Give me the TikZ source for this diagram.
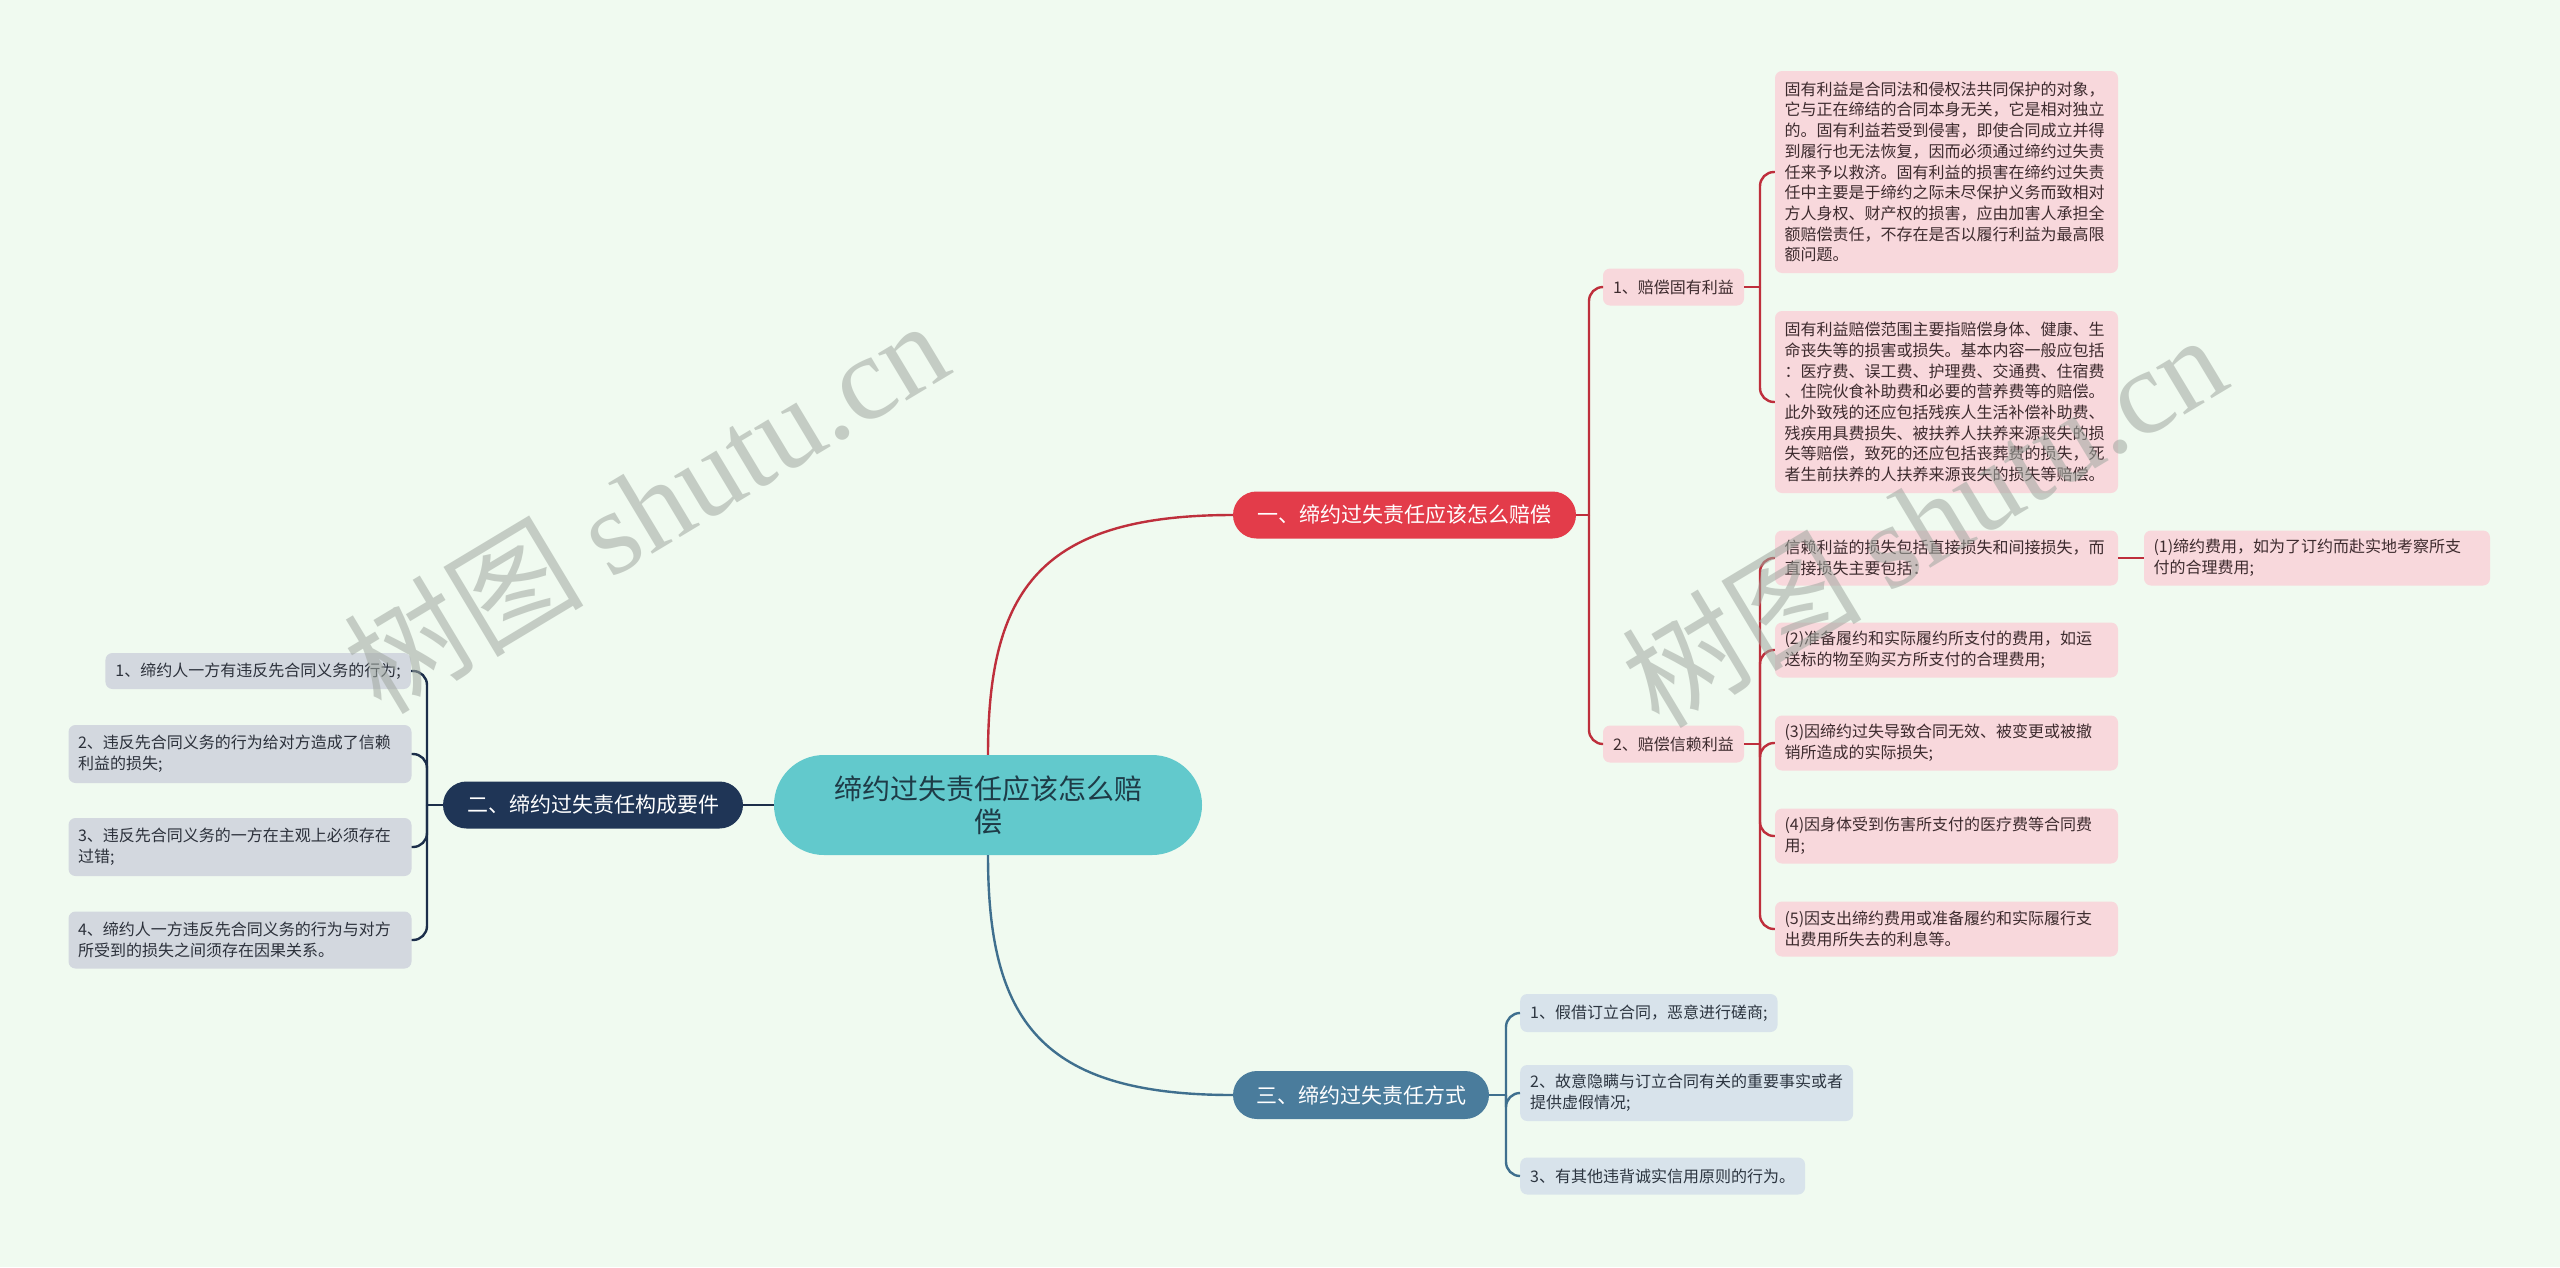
\documentclass[tikz,border=0pt]{standalone}
\usepackage{fontspec}
\setmainfont{Noto Sans CJK SC}
\newfontfamily\wmlatin{Liberation Serif}
\usetikzlibrary{shapes.misc}
\definecolor{cBg}{HTML}{F0FAF0}
\definecolor{cTeal}{HTML}{62C9CC}
\definecolor{cTxtC}{HTML}{1E3B47}
\definecolor{cRedPill}{HTML}{E33C4A}
\definecolor{cNavyPill}{HTML}{1F3556}
\definecolor{cBluePill}{HTML}{4A7C9C}
\definecolor{cRedLine}{HTML}{BE2F3C}
\definecolor{cNavyLine}{HTML}{1C2E4A}
\definecolor{cBlueLine}{HTML}{3F6F8E}
\definecolor{cPink}{HTML}{F8D8DC}
\definecolor{cGray}{HTML}{D3D8DF}
\definecolor{cLblue}{HTML}{D8E3EB}
\definecolor{cTxtR}{HTML}{3D2B2E}
\definecolor{cTxtN}{HTML}{2C313B}
\definecolor{cTxtB}{HTML}{2C3540}
\definecolor{cWm}{HTML}{A0A8A0}
\begin{document}
\begin{tikzpicture}[x=1pt,y=-1pt,
  pill/.style={rounded rectangle, inner sep=0pt, text=white, font=\fontsize{21}{25}\selectfont},
  leaf/.style={rounded corners=7pt, inner xsep=10pt, inner ysep=0pt, font=\fontsize{16}{20.7}\selectfont, align=left},
  leafR/.style={leaf, fill=cPink, text=cTxtR},
  leafN/.style={leaf, fill=cGray, text=cTxtN},
  leafB/.style={leaf, fill=cLblue, text=cTxtB},
  wide/.style={text width=324pt, inner xsep=9.5pt},
  connR/.style={draw=cRedLine, line width=2.4pt, rounded corners=14pt},
  connN/.style={draw=cNavyLine, line width=2.4pt, rounded corners=14pt},
  connB/.style={draw=cBlueLine, line width=2.4pt, rounded corners=14pt},
  wm/.style={rotate=31, text=cWm, opacity=0.55, font=\fontsize{120}{120}\selectfont}
]
\useasboundingbox (0,0) rectangle (2560,1267);
\fill[cBg] (0,0) rectangle (2560,1267);

% central and main branches
\node[rounded rectangle, fill=cTeal, text=cTxtC, minimum width=428pt, minimum height=100pt, inner sep=0pt,
  align=center, font=\fontsize{28}{33}\selectfont] (C0) at (988,805) {缔约过失责任应该怎么赔\\偿};
\node[pill, fill=cRedPill, minimum width=343pt, minimum height=47pt] (R) at (1404.5,515) {一、缔约过失责任应该怎么赔偿};
\node[pill, fill=cNavyPill, minimum width=300pt, minimum height=47pt] (N) at (593,805) {二、缔约过失责任构成要件};
\node[pill, fill=cBluePill, minimum width=256pt, minimum height=48pt] (B) at (1361,1095) {三、缔约过失责任方式};

% red sub nodes
\node[leafR, minimum width=141pt, minimum height=37pt] (R1) at (1673.5,287) {1、赔偿固有利益};
\node[leafR, minimum width=141pt, minimum height=37pt] (R2) at (1673.5,744) {2、赔偿信赖利益};

\node[leafR, wide, minimum height=202pt] (A) at (1946.5,172) {固有利益是合同法和侵权法共同保护的对象，\\它与正在缔结的合同本身无关，它是相对独立\\的。固有利益若受到侵害，即使合同成立并得\\到履行也无法恢复，因而必须通过缔约过失责\\任来予以救济。固有利益的损害在缔约过失责\\任中主要是于缔约之际未尽保护义务而致相对\\方人身权、财产权的损害，应由加害人承担全\\额赔偿责任，不存在是否以履行利益为最高限\\额问题。};
\node[leafR, wide, minimum height=182pt] (Bx) at (1946.5,402) {固有利益赔偿范围主要指赔偿身体、健康、生\\命丧失等的损害或损失。基本内容一般应包括\\：医疗费、误工费、护理费、交通费、住宿费\\、住院伙食补助费和必要的营养费等的赔偿。\\此外致残的还应包括残疾人生活补偿补助费、\\残疾用具费损失、被扶养人扶养来源丧失的损\\失等赔偿，致死的还应包括丧葬费的损失，死\\者生前扶养的人扶养来源丧失的损失等赔偿。};

\node[leafR, wide, minimum height=55pt] (Cx) at (1946.5,558) {信赖利益的损失包括直接损失和间接损失，而\\直接损失主要包括：};
\node[leafR, text width=327pt, inner xsep=9.5pt, minimum height=55pt] (C1) at (2317,558) {(1)缔约费用，如为了订约而赴实地考察所支\\付的合理费用;};
\node[leafR, wide, minimum height=55pt] (D) at (1946.5,650) {(2)准备履约和实际履约所支付的费用，如运\\送标的物至购买方所支付的合理费用;};
\node[leafR, wide, minimum height=55pt] (E) at (1946.5,743) {(3)因缔约过失导致合同无效、被变更或被撤\\销所造成的实际损失;};
\node[leafR, wide, minimum height=55pt] (F) at (1946.5,836) {(4)因身体受到伤害所支付的医疗费等合同费\\用;};
\node[leafR, wide, minimum height=55pt] (G) at (1946.5,929) {(5)因支出缔约费用或准备履约和实际履行支\\出费用所失去的利息等。};

% blue leaves
\node[leafB, anchor=west, minimum height=38pt] (H1) at (1520,1013) {1、假借订立合同，恶意进行磋商;};
\node[leafB, anchor=west, minimum height=56pt] (H2) at (1520,1093) {2、故意隐瞒与订立合同有关的重要事实或者\\提供虚假情况;};
\node[leafB, anchor=west, minimum height=37pt] (H3) at (1520,1176) {3、有其他违背诚实信用原则的行为。};

% navy leaves
\node[leafN, anchor=east, minimum height=36pt] (L1) at (411,671) {1、缔约人一方有违反先合同义务的行为;};
\node[leafN, wide, minimum height=58pt] (L2) at (240,754) {2、违反先合同义务的行为给对方造成了信赖\\利益的损失;};
\node[leafN, wide, minimum height=58pt] (L3) at (240,847) {3、违反先合同义务的一方在主观上必须存在\\过错;};
\node[leafN, wide, minimum height=57pt] (L4) at (240,940) {4、缔约人一方违反先合同义务的行为与对方\\所受到的损失之间须存在因果关系。};

% junction coordinates
\coordinate (jR) at (1589,515);
\coordinate (jR1) at (1760,287);
\coordinate (jR2) at (1760,744);
\coordinate (jB) at (1506,1095);
\coordinate (jN) at (427,805);

% main connectors
\draw[cRedLine, line width=2.4pt] (C0.north) .. controls (988,590) and (1040,515) .. (R.west);
\draw[cBlueLine, line width=2.4pt] (C0.south) .. controls (988,1020) and (1040,1095) .. (B.west);
\draw[cNavyLine, line width=2.4pt] (C0.west) -- (N.east);

% red tree
\draw[connR] (R.east) -- (jR);
\draw[connR] (jR) |- (R1.west);
\draw[connR] (jR) |- (R2.west);
\draw[connR] (R1.east) -- (jR1);
\draw[connR] (jR1) |- (A.west);
\draw[connR] (jR1) |- (Bx.west);
\draw[connR] (R2.east) -- (jR2);
\draw[connR] (jR2) |- (Cx.west);
\draw[connR] (jR2) |- (D.west);
\draw[connR] (jR2) |- (E.west);
\draw[connR] (jR2) |- (F.west);
\draw[connR] (jR2) |- (G.west);
\draw[connR] (Cx.east) -- (C1.west);

% blue tree
\draw[connB] (B.east) -- (jB);
\draw[connB] (jB) |- (H1.west);
\draw[connB] (jB) |- (H2.west);
\draw[connB] (jB) |- (H3.west);

% navy tree
\draw[connN] (N.west) -- (jN);
\draw[connN] (jN) |- (L1.east);
\draw[connN] (jN) |- (L2.east);
\draw[connN] (jN) |- (L3.east);
\draw[connN] (jN) |- (L4.east);

% watermarks
\node[wm] (wm1) at (645,505) {树图 {\wmlatin shutu.cn}};
\node[wm] (wm2) at (1923,519) {树图 {\wmlatin shutu.cn}};
\end{tikzpicture}
\end{document}
